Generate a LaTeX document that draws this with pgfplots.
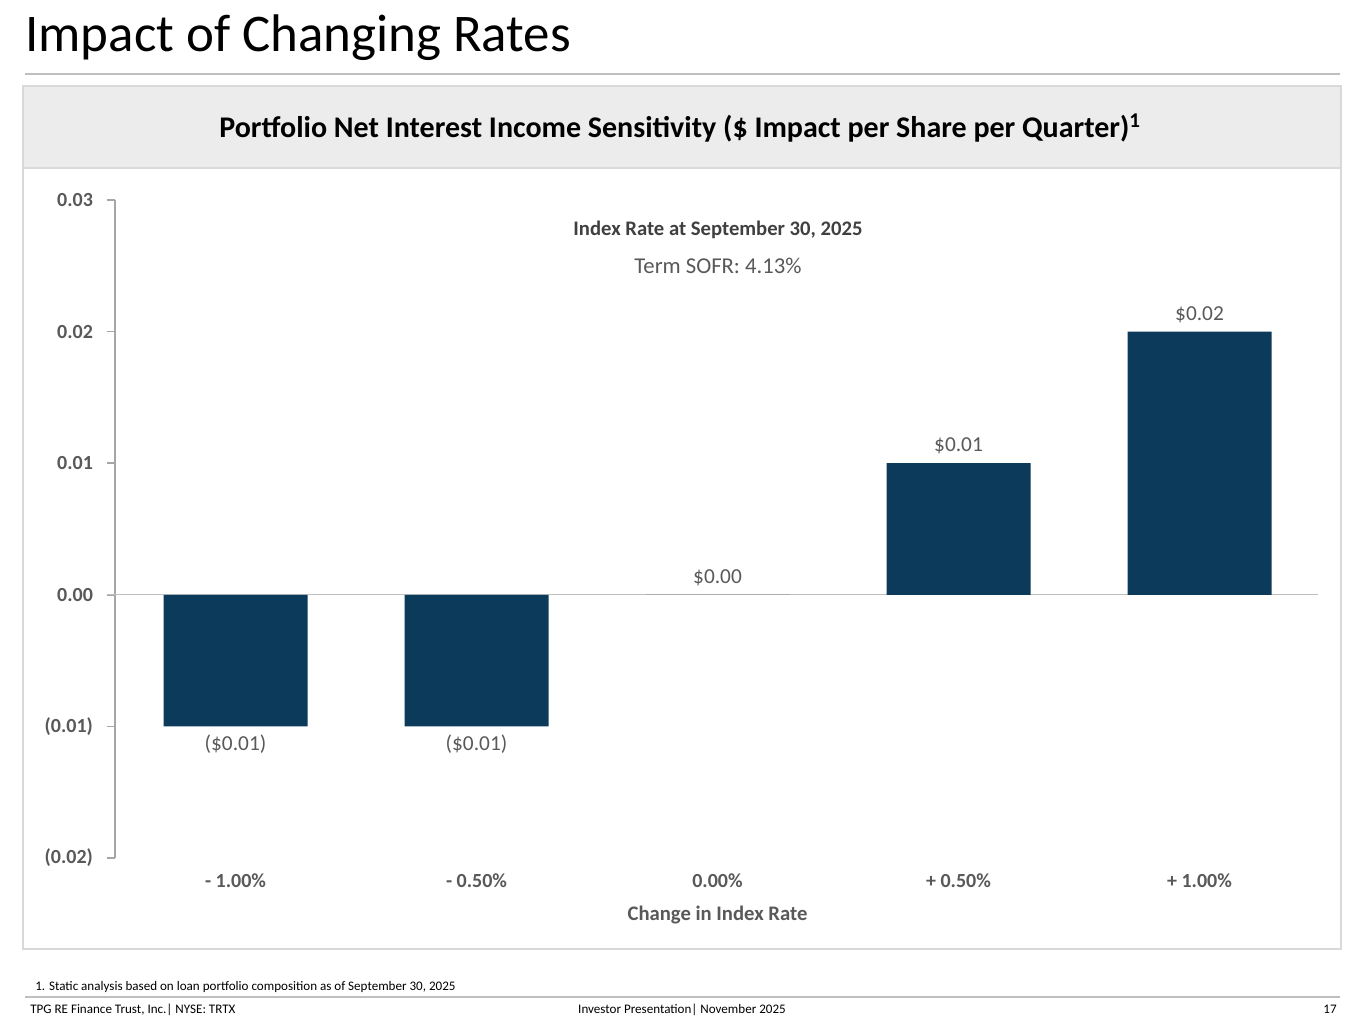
\documentclass[border=0pt]{standalone}
\usepackage{fontspec}
\setmainfont{Carlito}
\usepackage{pgfplots}
\pgfplotsset{compat=1.18}

\definecolor{navy}{HTML}{0B3A5B}
\definecolor{txtgray}{HTML}{595959}
\definecolor{darkgray}{HTML}{404040}
\definecolor{axgray}{HTML}{A6A6A6}
\definecolor{linegray}{HTML}{BFBFBF}
\definecolor{panelgray}{HTML}{D9D9D9}
\definecolor{headfill}{HTML}{ECECEC}

\begin{document}
\begin{tikzpicture}[x=0.75pt,y=0.75pt]
% page frame, coordinates in px with y measured up from the bottom
\fill[white] (0,0) rectangle (1365,1024);

% title and rules
\node[anchor=base west,inner sep=0,font=\fontsize{39.7}{43}\selectfont] at (25,{1024-52}) {Impact of Changing Rates};
\draw[linegray,line width=2.2pt] (25,{1024-74}) -- (1340,{1024-74});

% panel
\fill[headfill] (23,{1024-86}) rectangle (1341,{1024-168});
\draw[panelgray,line width=1.5pt] (23,{1024-86}) rectangle (1341,{1024-949});
\draw[panelgray,line width=1pt] (23,{1024-168}) -- (1341,{1024-168});
\node[anchor=base,inner sep=0,font=\bfseries\fontsize{22.5}{26}\selectfont] at (680,{1024-138})
  {Portfolio Net Interest Income Sensitivity (\$ Impact per Share per Quarter)\textsuperscript{1}};

\begin{axis}[
  at={(86.25pt,124.5pt)}, anchor=south west,
  scale only axis, width=903.75pt, height=493.5pt,
  xmin=-0.5, xmax=4.5, ymin=-0.02, ymax=0.03,
  clip=false,
  axis x line*=bottom, axis y line*=left,
  x axis line style={draw=none},
  y axis line style={axgray,line width=1.1pt,-},
  xtick={0,1,2,3,4},
  xticklabels={- 1.00\%,- 0.50\%,0.00\%,+ 0.50\%,+ 1.00\%},
  x tick style={draw=none},
  ytick={-0.02,-0.01,0,0.01,0.02,0.03},
  yticklabels={(0.02),(0.01),0.00,0.01,0.02,0.03},
  scaled y ticks=false,
  y tick style={axgray,line width=1.1pt},
  tick align=outside, major tick length=6pt,
  /pgf/number format/assume math mode=true,
  ticklabel style={font=\bfseries\fontsize{15}{18}\selectfont, text=txtgray},
  xticklabel style={yshift=-2pt},
  yticklabel style={xshift=-7pt},
  xlabel={Change in Index Rate},
  xlabel style={font=\bfseries\fontsize{15.5}{18}\selectfont, text=txtgray, yshift=-7.5pt},
  point meta=explicit symbolic,
]
\addplot[linegray,line width=1pt,forget plot] coordinates {(-0.535,0) (4.49,0)};
% bars at or above zero: labels above
\addplot[ybar, bar width=108pt, fill=navy, draw=none,
  nodes near coords,
  nodes near coords style={font=\fontsize{16}{19}\selectfont, text=txtgray, inner sep=6.5pt, anchor=south}]
  coordinates {
  (2,0) [\$0.00]
  (3,0.01) [\$0.01]
  (4,0.02) [\$0.02]
  };
% bars below zero: labels below
\addplot[ybar, bar width=108pt, fill=navy, draw=none,
  nodes near coords,
  nodes near coords style={font=\fontsize{16}{19}\selectfont, text=txtgray, inner sep=6.5pt, anchor=north}]
  coordinates {
  (0,-0.01) [(\$0.01)]
  (1,-0.01) [(\$0.01)]
  };
\end{axis}

% annotation
\node[anchor=base,inner sep=0,font=\bfseries\fontsize{15.5}{18}\selectfont,text=darkgray] at (718,{1024-236}) {Index Rate at September 30, 2025};
\node[anchor=base,inner sep=0,font=\fontsize{17}{20}\selectfont,text=txtgray] at (718,{1024-274}) {Term SOFR: 4.13\%};

% footnote and footer
\node[anchor=base west,inner sep=0,font=\fontsize{9.8}{11}\selectfont] at (35,{1024-991}) {1. Static analysis based on loan portfolio composition as of September 30, 2025};
\draw[linegray,line width=2.2pt] (25,{1024-997}) -- (1340,{1024-997});
\node[anchor=base west,inner sep=0,font=\fontsize{9.8}{11}\selectfont] at (30,{1024-1014}) {TPG RE Finance Trust, Inc.| NYSE: TRTX};
\node[anchor=base,inner sep=0,font=\fontsize{9.8}{11}\selectfont] at (682,{1024-1014}) {Investor Presentation| November 2025};
\node[anchor=base east,inner sep=0,font=\fontsize{9.8}{11}\selectfont] at (1337,{1024-1014}) {17};
\end{tikzpicture}
\end{document}
